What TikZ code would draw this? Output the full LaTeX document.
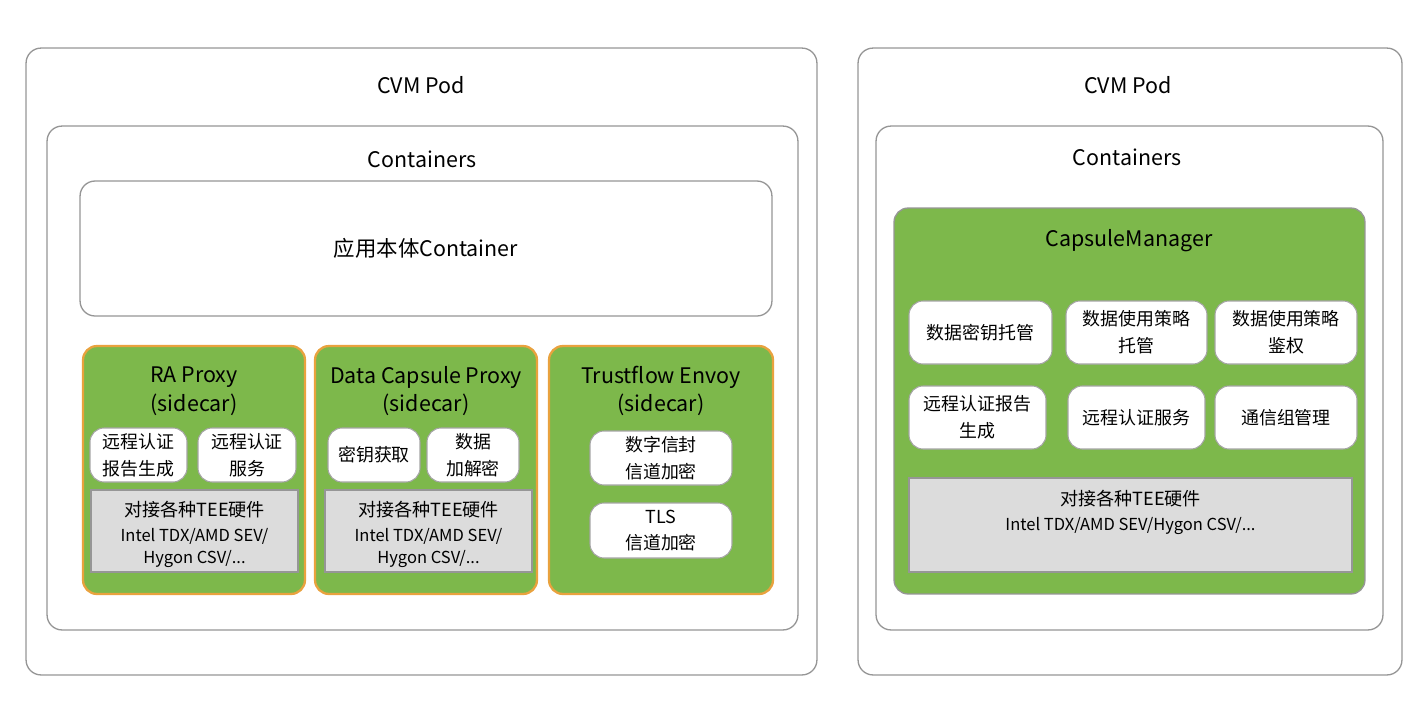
\documentclass[tikz,border=0pt]{standalone}
\usepackage{fontspec}
\setmainfont{Noto Sans CJK SC}
\usetikzlibrary{positioning,calc}

\definecolor{podgray}{RGB}{150,150,150}
\definecolor{leafgreen}{RGB}{125,184,75}
\definecolor{edgeorange}{RGB}{233,162,62}
\definecolor{hwgray}{RGB}{220,220,220}
\definecolor{chipline}{RGB}{165,165,165}

\tikzset{
  podbox/.style={draw=podgray, line width=0.75pt, rounded corners=0.3cm, fill=white},
  greenbox/.style={draw=edgeorange, line width=1.3pt, rounded corners=0.28cm, fill=leafgreen},
  greenplain/.style={draw=podgray, line width=0.75pt, rounded corners=0.28cm, fill=leafgreen},
  chipbox/.style={draw=chipline, line width=0.6pt, rounded corners=0.28cm, fill=white,
    align=center, font=\fontsize{10.2}{15.3}\selectfont, inner sep=0pt},
  hwbox/.style={draw=podgray, line width=0.75pt, fill=hwgray, inner sep=0pt},
  hwtext/.style={align=center, font=\fontsize{9.4}{12}\selectfont},
  title/.style={font=\fontsize{12.2}{16.4}\selectfont, align=center},
}

\begin{document}
\begin{tikzpicture}[x=0.02cm,y=-0.02cm]
\useasboundingbox (0,0) rectangle (1424,704);

% left pod
\node[podbox, minimum width=15.82cm, minimum height=12.54cm] (podL) at (421.5,361.5) {};
\node[title] (podLt) at (421,85) {CVM Pod};
\node[podbox, minimum width=15.02cm, minimum height=10.08cm] (contL) at (422.5,378) {};
\node[title] (contLt) at (422,159) {Containers};
\node[podbox, title, minimum width=13.84cm, minimum height=2.70cm] (app) at (426,248.5) {应用本体Container};

% sidecars
\node[greenbox, minimum width=4.44cm, minimum height=4.96cm] (ra) at (194,470) {};
\node[greenbox, minimum width=4.44cm, minimum height=4.96cm] (dcp) at (426,470) {};
\node[greenbox, minimum width=4.48cm, minimum height=4.96cm] (tfe) at (661,470) {};
\node[title] (rat) at (194,391) {RA Proxy\\(sidecar)};
\node[title] (dcpt) at (426,391) {Data Capsule Proxy\\(sidecar)};
\node[title] (tfet) at (661,391) {Trustflow Envoy\\(sidecar)};

\node[chipbox, minimum width=1.94cm, minimum height=1.08cm] (ra1) at (138.5,455) {远程认证\\报告生成};
\node[chipbox, minimum width=1.96cm, minimum height=1.08cm] (ra2) at (247,455) {远程认证\\服务};
\node[chipbox, minimum width=1.84cm, minimum height=1.08cm] (dc1) at (374,455) {密钥获取};
\node[chipbox, minimum width=1.84cm, minimum height=1.08cm] (dc2) at (473,455) {数据\\加解密};
\node[chipbox, minimum width=2.84cm, minimum height=1.08cm] (tf1) at (661,458) {数字信封\\信道加密};
\node[chipbox, minimum width=2.84cm, minimum height=1.10cm] (tf2) at (661,530.5) {TLS\\信道加密};

\foreach \nm/\cx in {rahw/194.5, dchw/428.5}{
  \node[hwbox, minimum width=4.14cm, minimum height=1.64cm] (\nm) at (\cx,531) {};
  \node[hwtext] (\nm t) at (\cx,534)
    {{\fontsize{10.3}{12}\selectfont 对接各种TEE硬件}\\[2.2pt]
     Intel TDX/AMD SEV/\\[0.5pt]
     Hygon CSV/...};
}

% right pod
\node[podbox, minimum width=10.88cm, minimum height=12.54cm] (podR) at (1130,361.5) {};
\node[title] (podRt) at (1128,85) {CVM Pod};
\node[podbox, minimum width=10.14cm, minimum height=10.08cm] (contR) at (1129.5,378) {};
\node[title] (contRt) at (1127,157) {Containers};
\node[greenplain, minimum width=9.42cm, minimum height=7.72cm] (cm) at (1129.5,401) {};
\node[title] (cmt) at (1129,241) {CapsuleManager};

\node[chipbox, minimum width=2.86cm, minimum height=1.26cm] (cm1) at (980.5,332.5) {数据密钥托管};
\node[chipbox, minimum width=2.82cm, minimum height=1.26cm] (cm2) at (1136.5,332.5) {数据使用策略\\托管};
\node[chipbox, minimum width=2.84cm, minimum height=1.26cm] (cm3) at (1286,332.5) {数据使用策略\\鉴权};
\node[chipbox, minimum width=2.74cm, minimum height=1.26cm] (cm4) at (977.5,417.5) {远程认证报告\\生成};
\node[chipbox, minimum width=2.74cm, minimum height=1.26cm] (cm5) at (1136.5,417.5) {远程认证服务};
\node[chipbox, minimum width=2.84cm, minimum height=1.26cm] (cm6) at (1286,417.5) {通信组管理};

\node[hwbox, minimum width=8.86cm, minimum height=1.88cm] (cmhw) at (1130.5,525) {};
\node[hwtext] (cmhwt) at (1130.5,512.5)
  {{\fontsize{10.3}{12}\selectfont 对接各种TEE硬件}\\[2.2pt]
   Intel TDX/AMD SEV/Hygon CSV/...};
\end{tikzpicture}
\end{document}
